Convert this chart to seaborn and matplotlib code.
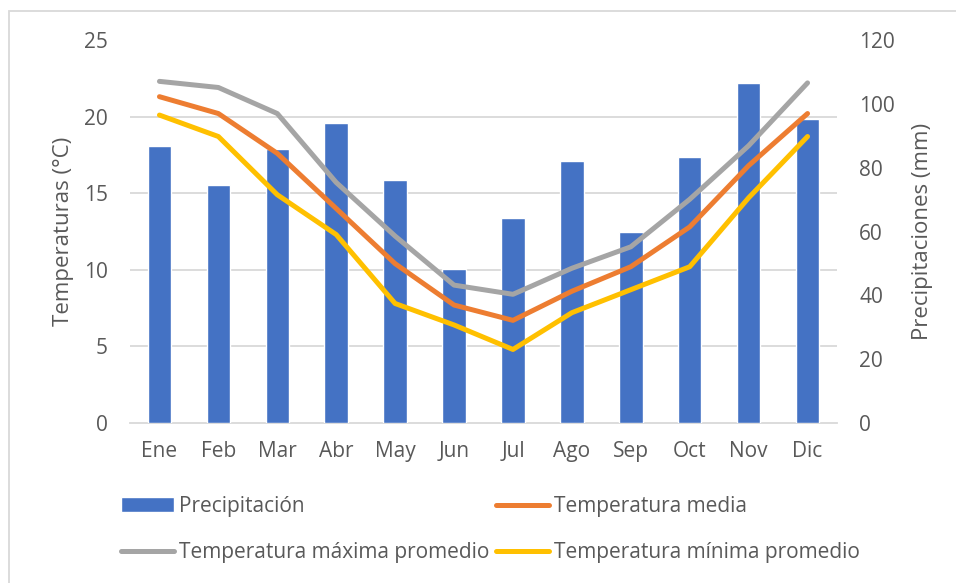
import numpy as np
import pandas as pd
import matplotlib
matplotlib.use("Agg")
import matplotlib.pyplot as plt
import seaborn as sns
from matplotlib.patches import Rectangle

# Monthly climate data
months = ['Ene', 'Feb', 'Mar', 'Abr', 'May', 'Jun', 'Jul', 'Ago', 'Sep', 'Oct', 'Nov', 'Dic']
precip = [86.8, 74.6, 85.9, 94.1, 76.0, 48.1, 64.2, 82.1, 59.8, 83.4, 106.6, 95.4]
t_media = [21.3, 20.2, 17.6, 14.0, 10.4, 7.7, 6.7, 8.6, 10.2, 12.8, 16.8, 20.2]
t_max = [22.3, 21.9, 20.2, 15.7, 12.2, 9.0, 8.4, 10.1, 11.5, 14.6, 18.1, 22.2]
t_min = [20.1, 18.7, 14.9, 12.3, 7.8, 6.4, 4.8, 7.2, 8.7, 10.2, 14.7, 18.7]

temp_ticks = [0, 5, 10, 15, 20, 25]
precip_ticks = [0, 20, 40, 60, 80, 100, 120]

txt = '#595959'
grid_c = '#d9d9d9'

sns.set_style("white")
plt.rcParams['font.family'] = ['Open Sans', 'DejaVu Sans']

fig = plt.figure(figsize=(9.56, 5.83), dpi=100)
ax = fig.add_axes([130 / 956, 1 - 423 / 583, 707 / 956, 383 / 583])
ax2 = ax.twinx()

# bars on the primary axes (right-hand scale), lines on the twin (left-hand scale)
sns.barplot(x=months, y=precip, ax=ax, color='#4472C4', width=0.4,
            saturation=1, zorder=3)
ax.set_ylim(0, 120)
ax.set_xlim(-0.5, len(months) - 0.5)
ax.yaxis.tick_right()
ax.yaxis.set_label_position('right')
ax.set_yticks(precip_ticks)
# gridlines follow the temperature scale, drawn under the bars
ax.set_yticks(np.array(temp_ticks) * 120 / 25, minor=True)
ax.grid(which='minor', axis='y', color=grid_c, lw=1.3, zorder=0)
ax.grid(which='major', visible=False)
ax.set_axisbelow(True)

df = pd.DataFrame({
    'pos': list(range(len(months))) * 3,
    'temp': t_media + t_max + t_min,
    'serie': ['Temperatura media'] * 12 + ['Temperatura máxima promedio'] * 12
             + ['Temperatura mínima promedio'] * 12,
})
pal = {'Temperatura media': '#ED7D31',
       'Temperatura máxima promedio': '#A5A5A5',
       'Temperatura mínima promedio': '#FFC000'}
sns.lineplot(data=df, x='pos', y='temp', hue='serie', palette=pal, ax=ax2,
             lw=3.6, legend=False, solid_capstyle='round', solid_joinstyle='round')
ax2.set_ylim(0, 25)
ax2.set_yticks(temp_ticks)
ax2.yaxis.tick_left()
ax2.yaxis.set_label_position('left')
ax2.set_xlim(-0.5, len(months) - 0.5)
ax2.grid(False)

for a in (ax, ax2):
    for s in a.spines.values():
        s.set_visible(False)
ax.spines['bottom'].set_visible(True)
ax.spines['bottom'].set_color(grid_c)
ax.spines['bottom'].set_linewidth(1.3)

ax.set_xticks(range(len(months)))
ax.set_xticklabels(months)
ax.tick_params(axis='x', length=0, pad=13, labelsize=15, labelcolor=txt)
ax.tick_params(axis='y', which='both', length=0, pad=16, labelsize=15, labelcolor=txt)
ax2.tick_params(axis='y', length=0, pad=16, labelsize=15, labelcolor=txt)
ax.set_xlabel('')
ax.set_ylabel('Precipitaciones (mm)', fontsize=16, color=txt, labelpad=12)
ax2.set_ylabel('Temperaturas (°C)', fontsize=16, color=txt, labelpad=7)

# legend below the plot
lns = ax2.get_lines()
hs = [ax.patches[0], lns[1], lns[0], lns[2]]
labels = ['Precipitación', 'Temperatura máxima promedio',
          'Temperatura media', 'Temperatura mínima promedio']
leg = fig.legend(hs, labels, ncol=2, loc='upper left',
                 bbox_to_anchor=(121 / 956, 1 - 496 / 583), frameon=False,
                 fontsize=15, handlelength=2.55, handletextpad=0.25,
                 columnspacing=0.3, labelspacing=1.2, borderpad=0, borderaxespad=0)
for t in leg.get_texts():
    t.set_color(txt)

# chart frame
fig.add_artist(Rectangle((9 / 956, -0.05), 1.1, 1 - 11 / 583 + 0.05,
                         transform=fig.transFigure, fill=False,
                         edgecolor=grid_c, lw=1.3))

fig.savefig('out.png', dpi=100)
